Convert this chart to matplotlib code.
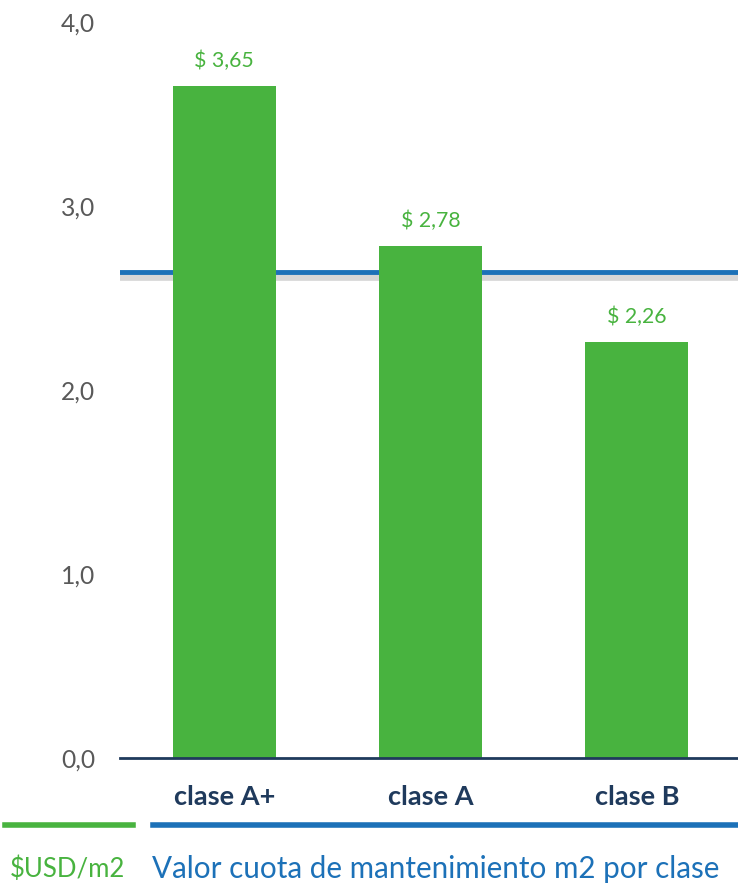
import matplotlib
matplotlib.use("Agg")
from matplotlib import pyplot as plt
from matplotlib import patheffects as pe

categories = ["clase A+", "clase A", "clase B"]
values = [3.65, 2.78, 2.26]
value_labels = ["$ 3,65", "$ 2,78", "$ 2,26"]
average = 2.64
y_ticks = [0, 1, 2, 3, 4]
y_tick_labels = ["0,0", "1,0", "2,0", "3,0", "4,0"]

GREEN = "#48B33F"
BLUE = "#1C71B8"
NAVY = "#1F3A5C"
GRAY = "#595959"

plt.rcParams["font.family"] = ["Lato", "DejaVu Sans"]

fig = plt.figure(figsize=(7.38, 8.84), dpi=100)
ax = fig.add_axes([120 / 738, 1 - 758 / 884, 1 - 120 / 738, (758 - 22) / 884])

x = range(len(categories))
ax.bar(x, values, width=0.5, color=GREEN, zorder=3)

# average line with a soft shadow underneath, sitting behind the bars
ax.axhline(average, color=BLUE, lw=3.5, zorder=2,
           path_effects=[pe.SimpleLineShadow(offset=(0, -3), shadow_color="#9a9a9a", alpha=0.4, linewidth=7),
                         pe.Normal()])

for xi, v, lab in zip(x, values, value_labels):
    ax.annotate(lab, (xi, v), xytext=(0, 11), textcoords="offset points",
                ha="center", va="bottom", color=GREEN, fontsize=15.3)

ax.set_xlim(-0.505, 2.49)
ax.set_ylim(0, 4)
ax.set_yticks(y_ticks)
ax.set_yticklabels(y_tick_labels, color=GRAY, fontsize=17.7)
ax.set_xticks(list(x))
ax.set_xticklabels(categories, color=NAVY, fontsize=19.5, fontweight="bold")
ax.tick_params(axis="y", length=0, pad=18)
ax.tick_params(axis="x", length=0, pad=19.5)

for side in ["top", "right", "left"]:
    ax.spines[side].set_visible(False)
ax.spines["bottom"].set_color(NAVY)
ax.spines["bottom"].set_linewidth(2)
ax.spines["bottom"].set_zorder(4)

# footer: colored rules with captions
fig.add_artist(plt.Line2D([5 / 738, 133 / 738], [1 - 825 / 884] * 2, color=GREEN, lw=4))
fig.add_artist(plt.Line2D([153 / 738, 1.0], [1 - 825 / 884] * 2, color=BLUE, lw=4))
fig.text(10 / 738, 1 - 869 / 884, "$USD/m2", color=GREEN, fontsize=18.5, va="center", ha="left")
fig.text(152 / 738, 1 - 869 / 884, "Valor cuota de mantenimiento m2 por clase", color=BLUE,
         fontsize=21.3, va="center", ha="left")

fig.savefig("out.png", dpi=100)
